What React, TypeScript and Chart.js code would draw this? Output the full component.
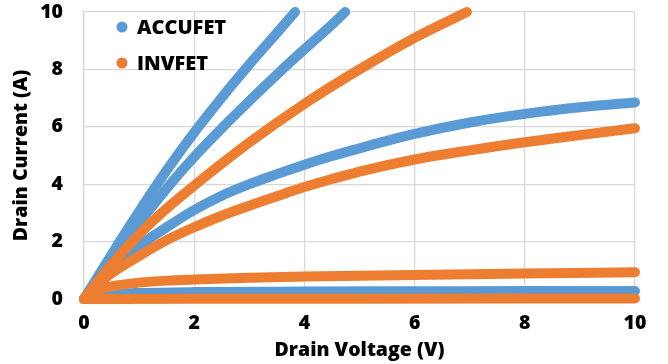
import { useEffect, useRef } from "react";
import { Chart, registerables } from "chart.js";

Chart.register(...registerables);

const seriesNames = ["ACCUFET", "INVFET"];
const xTicks = [0, 2, 4, 6, 8, 10];
const yTicks = [0, 2, 4, 6, 8, 10];
const xTitle = "Drain Voltage (V)";
const yTitle = "Drain Current (A)";

const BLUE = "#5B9BD5";
const ORANGE = "#ED7D31";

// ACCUFET curves (blue)
const accu1V = [0, 0.5, 1, 1.5, 2, 2.5, 3, 3.5, 3.83];
const accu1I = [0, 1.55, 3.05, 4.48, 5.8, 7.02, 8.17, 9.27, 10];
const accu2V = [0, 0.5, 1, 1.5, 2, 2.5, 3, 3.5, 4, 4.5, 4.74];
const accu2I = [0, 1.35, 2.65, 3.85, 4.95, 5.95, 6.9, 7.82, 8.7, 9.56, 10];
const accu3V = [0, 0.25, 0.5, 1, 1.5, 2, 2.5, 3, 3.5, 4, 4.5, 5, 6, 7, 8, 9, 10];
const accu3I = [0, 0.5, 0.98, 1.85, 2.5, 3.1, 3.6, 4.0, 4.35, 4.68, 4.98, 5.25, 5.75, 6.15, 6.45, 6.68, 6.85];
const accu4V = [0, 0.3, 0.6, 1, 2, 4, 6, 8, 10];
const accu4I = [0, 0.12, 0.18, 0.21, 0.24, 0.26, 0.27, 0.28, 0.28];

// INVFET curves (orange)
const inv1V = [0, 0.5, 1, 1.5, 2, 3, 4, 5, 6, 6.95];
const inv1I = [0, 1.2, 2.25, 3.15, 3.95, 5.45, 6.8, 8.0, 9.1, 10];
const inv2V = [0, 0.25, 0.5, 1, 1.5, 2, 2.5, 3, 3.5, 4, 4.5, 5, 6, 7, 8, 9, 10];
const inv2I = [0, 0.5, 0.9, 1.5, 2.05, 2.5, 2.9, 3.25, 3.58, 3.9, 4.18, 4.44, 4.86, 5.18, 5.46, 5.71, 5.95];
const inv3V = [0, 0.2, 0.4, 0.7, 1, 1.5, 2, 3, 4, 5, 6, 8, 10];
const inv3I = [0, 0.25, 0.4, 0.5, 0.57, 0.64, 0.68, 0.74, 0.78, 0.81, 0.84, 0.89, 0.93];
const inv4V = [0, 2, 5, 10];
const inv4I = [0, 0.01, 0.01, 0.02];

const zip = (xs: number[], ys: number[]) => xs.map((x, i) => ({ x, y: ys[i] }));

const FONT = "'Open Sans'";

const legendPlugin = {
  id: "customLegend",
  afterDraw(chart: any) {
    const ctx = chart.ctx;
    const { left, top } = chart.chartArea;
    ctx.save();
    ctx.font = `800 20px ${FONT}`;
    ctx.textBaseline = "middle";
    ctx.textAlign = "left";
    [BLUE, ORANGE].forEach((c, i) => {
      const y = top + 15 + i * 36;
      ctx.fillStyle = c;
      ctx.beginPath();
      ctx.arc(left + 38, y, 5.5, 0, Math.PI * 2);
      ctx.fill();
      ctx.fillStyle = "#000";
      ctx.fillText(seriesNames[i], left + 53, y + 1);
    });
    ctx.restore();
  },
};

export default function App() {
  const ref = useRef<HTMLCanvasElement | null>(null);

  useEffect(() => {
    document.body.style.margin = "0";
    const canvas = ref.current;
    if (!canvas) return;

    const mk = (data: any[], color: string, order: number) => ({
      data,
      showLine: true,
      borderColor: color,
      backgroundColor: color,
      borderWidth: 10,
      borderCapStyle: "round",
      borderJoinStyle: "round",
      pointRadius: 0,
      pointHoverRadius: 0,
      cubicInterpolationMode: "monotone",
      clip: false,
      order,
    });

    const tickFont = { family: FONT, size: 19.5, weight: 800 };
    const titleFont = { family: FONT, size: 19.5, weight: 800 };

    const chart = new Chart(canvas, {
      type: "scatter",
      data: {
        datasets: [
          mk(zip(accu1V, accu1I), BLUE, 2),
          mk(zip(accu2V, accu2I), BLUE, 2),
          mk(zip(accu3V, accu3I), BLUE, 2),
          mk(zip(accu4V, accu4I), BLUE, 2),
          mk(zip(inv1V, inv1I), ORANGE, 1),
          mk(zip(inv2V, inv2I), ORANGE, 1),
          mk(zip(inv3V, inv3I), ORANGE, 1),
          mk(zip(inv4V, inv4I), ORANGE, 1),
        ] as any,
      },
      options: {
        responsive: false,
        animation: false,
        layout: { padding: { top: 12, right: 33, left: 0, bottom: 0 } },
        plugins: {
          legend: { display: false },
          tooltip: { enabled: false },
        },
        scales: {
          x: {
            type: "linear",
            min: 0,
            max: 10,
            afterBuildTicks: (s: any) => {
              s.ticks = xTicks.map((v) => ({ value: v }));
            },
            afterFit: (s: any) => {
              s.height = 65;
              s.paddingLeft = 0;
              s.paddingRight = 0;
            },
            grid: { color: "#D9D9D9", lineWidth: 1.3, drawTicks: false },
            border: { color: "#D9D9D9", width: 1.3 },
            ticks: { padding: 13, color: "#000", font: tickFont },
            title: {
              display: true,
              text: xTitle,
              color: "#000",
              font: titleFont,
              padding: { top: 0, bottom: 2 },
            },
          },
          y: {
            type: "linear",
            min: 0,
            max: 10,
            afterBuildTicks: (s: any) => {
              s.ticks = yTicks.map((v) => ({ value: v }));
            },
            afterFit: (s: any) => {
              s.width = 84;
              s.paddingTop = 0;
              s.paddingBottom = 0;
            },
            grid: { color: "#D9D9D9", lineWidth: 1.3, drawTicks: false },
            border: { color: "#D9D9D9", width: 1.3 },
            ticks: { padding: 21, color: "#000", font: tickFont },
            title: {
              display: true,
              text: yTitle,
              color: "#000",
              font: titleFont,
              padding: { top: 10, bottom: 0 },
            },
          },
        },
      } as any,
      plugins: [legendPlugin],
    });

    return () => chart.destroy();
  }, []);

  return (
    <div style={{ width: 668, height: 364 }}>
      <canvas ref={ref} width={668} height={364} />
    </div>
  );
}
